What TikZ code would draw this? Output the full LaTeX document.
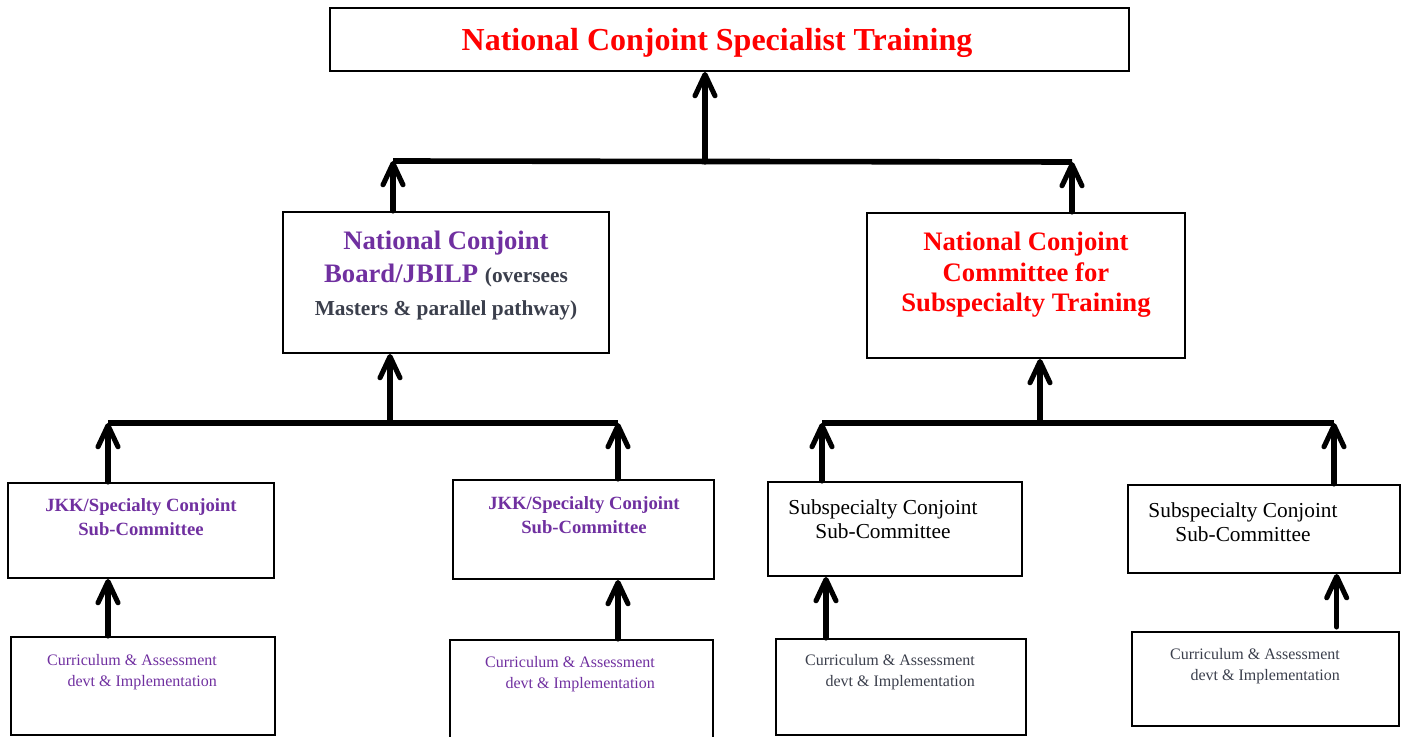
\documentclass[tikz,border=0pt]{standalone}
\usepackage{fontspec}
\setmainfont{Liberation Serif}
\usepackage{tikz}
\usetikzlibrary{arrows.meta,positioning,fit,calc}
\definecolor{accent}{HTML}{FF0000}
\definecolor{plum}{HTML}{7030A0}
\definecolor{slate}{HTML}{3B3F4C}
\tikzset{
  box/.style={draw,line width=1.5pt,inner sep=0pt},
  arrow/.style={-{Straight Barb[length=16pt,width=15pt,round]},line width=3.8pt,line cap=round},
  bar/.style={line width=4.2pt},
  headtext/.style={align=center,text=accent,font=\fontsize{24}{28}\selectfont\bfseries},
  subtext/.style={align=center,font=\fontsize{16}{18}\selectfont},
  curtext/.style={align=right,font=\fontsize{12}{15.75}\selectfont}
}

\begin{document}
\begin{tikzpicture}[
  x=0.75pt,y=-0.75pt,
  boardtext/.style={align=center,text=plum,font=\fontsize{20}{24.75}\selectfont\bfseries},
  committeetext/.style={align=center,text=accent,font=\fontsize{20}{23}\selectfont\bfseries},
  jkktext/.style={align=center,text=plum,font=\fontsize{14}{18}\selectfont\bfseries}
]
  \path[use as bounding box,clip] (0,0) rectangle (1407,737);

  % Boxes
  \node[box,fit={(330,8) (1129,71)}] (title) {};
  \node[box,fit={(283,212) (609,353)}] (board) {};
  \node[box,fit={(867,213) (1185,358)}] (committee) {};
  \node[box,fit={(8,483) (274,578)}] (jkk1) {};
  \node[box,fit={(453,480) (714,579)}] (jkk2) {};
  \node[box,fit={(768,482) (1022,576)}] (sub1) {};
  \node[box,fit={(1128,485) (1400,573)}] (sub2) {};
  \node[box,fit={(11,637) (275,735)}] (cur1) {};
  \node[box,fit={(450,640) (713,745)}] (cur2) {};
  \node[box,fit={(776,639) (1026,735)}] (cur3) {};
  \node[box,fit={(1132,632) (1399,726)}] (cur4) {};

  % Texts
  \node[headtext] (titletext) at (717,43) {National Conjoint Specialist Training};
  \node[boardtext] (boardtext) at (446,276) {National Conjoint\\Board/JBILP \textcolor{slate}{\fontsize{16}{24.75}\selectfont(oversees}\\\textcolor{slate}{\fontsize{16}{24.75}\selectfont Masters \& parallel pathway)}};
  \node[committeetext] (committeetext) at (1026,275) {National Conjoint\\Committee for\\Subspecialty Training};
  \node[jkktext] (jkk1text) at (141,517) {JKK/Specialty Conjoint\\Sub-Committee};
  \node[jkktext] (jkk2text) at (584,515) {JKK/Specialty Conjoint\\Sub-Committee};
  \node[subtext] (sub1text) at (883,519) {Subspecialty Conjoint\\Sub-Committee};
  \node[subtext] (sub2text) at (1243,522) {Subspecialty Conjoint\\Sub-Committee};
  \node[curtext,text=plum] (cur1text) at (132,672) {Curriculum \& Assessment\\devt \& Implementation};
  \node[curtext,text=plum] (cur2text) at (570,674) {Curriculum \& Assessment\\devt \& Implementation};
  \node[curtext,text=slate] (cur3text) at (890,672) {Curriculum \& Assessment\\devt \& Implementation};
  \node[curtext,text=slate] (cur4text) at (1255,666) {Curriculum \& Assessment\\devt \& Implementation};

  % Junction points
  \coordinate (topL) at (393,161);
  \coordinate (topM) at (705,162);
  \coordinate (topR) at (1072,162);
  \coordinate (boardL) at (108,423);
  \coordinate (boardM) at (390,423);
  \coordinate (boardR) at (618,423);
  \coordinate (comL) at (822,423);
  \coordinate (comM) at (1040,423);
  \coordinate (comR) at (1334,423);

  % Bars
  \draw[bar] (topL) -- (topR);
  \draw[bar] (boardL) -- (boardR);
  \draw[bar] (comL) -- (comR);

  % Arrows
  \draw[arrow] (topM) -- (topM |- title.south);
  \draw[arrow] (topL |- board.north) -- (topL);
  \draw[arrow] (topR |- committee.north) -- (topR);
  \draw[arrow] (boardM) -- (boardM |- board.south);
  \draw[arrow] (boardL |- jkk1.north) -- (boardL);
  \draw[arrow] (boardR |- jkk2.north) -- (boardR);
  \draw[arrow] (comM) -- (comM |- committee.south);
  \draw[arrow] (comL |- sub1.north) -- (comL);
  \draw[arrow] (comR |- sub2.north) -- (comR);
  \draw[arrow] (boardL |- cur1.north) -- (boardL |- jkk1.south);
  \draw[arrow] (boardR |- cur2.north) -- (boardR |- jkk2.south);
  \draw[arrow] ([xshift=3pt]comL |- cur3.north) -- ([xshift=3pt]comL |- sub1.south);
  \draw[arrow] ([shift={(2pt,3pt)}]comR |- cur4.north) -- ([xshift=2pt]comR |- sub2.south);
\end{tikzpicture}
\end{document}
